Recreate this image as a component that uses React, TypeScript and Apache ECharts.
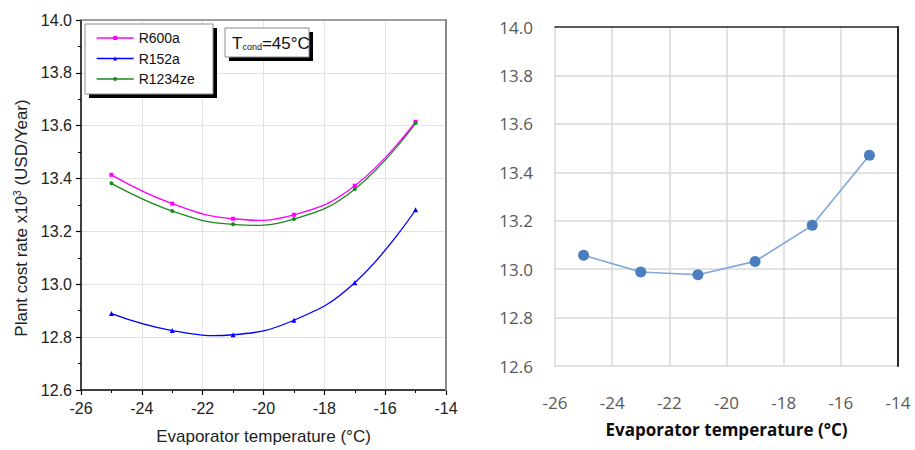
import React, { useEffect, useRef } from "react";
import * as echarts from "echarts";

// Evaporator temperatures (°C) at which the plant cost rate was evaluated
const temperatures = [-25, -23, -21, -19, -17, -15];

// Plant cost rate ×10³ (USD/Year) per refrigerant, T_cond = 45 °C
const costR600a = [13.414, 13.305, 13.248, 13.263, 13.373, 13.615];
const costR152a = [12.889, 12.825, 12.809, 12.864, 13.006, 13.282];
const costR1234ze = [13.382, 13.277, 13.227, 13.247, 13.36, 13.61];

// Single-curve comparison panel
const costComparison = [13.057, 12.988, 12.977, 13.032, 13.181, 13.47];

const seriesNames = ["R600a", "R152a", "R1234ze"];
const seriesColors = ["#ff00ff", "#0000ff", "#1a8a1a"];
const xTicks = { min: -26, max: -14, step: 2 };
const yTicks = { min: 12.6, max: 14.0, step: 0.2 };

const pairs = (ys: number[]) => temperatures.map((t, i) => [t, ys[i]]);

const ARIAL = "'Liberation Sans', Arial, sans-serif";
const CALIBRI = "'Open Sans', 'Noto Sans', sans-serif";

const frameAxis = (gridIndex: number, position: string, color: string, width: number, range: { min: number; max: number }) => ({
  gridIndex,
  type: "value",
  position,
  min: range.min,
  max: range.max,
  z: 3,
  axisLine: { show: true, onZero: false, lineStyle: { color, width } },
  axisTick: { show: false },
  axisLabel: { show: false },
  splitLine: { show: false },
});

// Smooth unconstrained curve through the points of one refrigerant, placed with the axis scales
const curveSeries = (values: number[], color: string) => {
  const data = pairs(values);
  return {
    type: "custom",
    xAxisIndex: 0,
    yAxisIndex: 0,
    z: 2,
    silent: true,
    data,
    renderItem: (params: any, api: any) => {
      if (params.dataIndex !== 0) return null;
      const points = data.map((d) => api.coord(d));
      return {
        type: "polyline",
        shape: { points, smooth: 0.45 },
        style: { stroke: color, lineWidth: 1.3, fill: null },
      };
    },
  };
};

// Markers of one refrigerant (its line is drawn by the curve above)
const markerSeries = (name: string, values: number[], color: string, symbol: string, size: number) => ({
  name,
  type: "line",
  xAxisIndex: 0,
  yAxisIndex: 0,
  data: pairs(values),
  symbol,
  symbolSize: size,
  color,
  lineStyle: { width: 1.3, color, opacity: 0 },
  z: 4,
});

export default function App() {
  const ref = useRef<HTMLDivElement>(null);

  useEffect(() => {
    if (!ref.current) return;
    const chart = echarts.init(ref.current, undefined, { renderer: "svg" });

    const fmt = (v: number) => v.toFixed(1);

    chart.setOption({
      animation: false,
      backgroundColor: "#ffffff",
      grid: [
        { left: 81, top: 20, width: 365, height: 371 },
        { left: 555, top: 27, width: 343, height: 339 },
      ],
      legend: {
        data: seriesNames.map((name, i) => ({
          name,
          lineStyle: { color: seriesColors[i], width: 1.3, opacity: 1 },
        })),
        orient: "vertical",
        left: 96,
        top: 31,
        z: 6,
        padding: 0,
        itemWidth: 37,
        itemHeight: 5,
        itemGap: 6.5,
        textStyle: { fontSize: 14, color: "#111", fontFamily: ARIAL },
      },
      xAxis: [
        {
          gridIndex: 0,
          type: "value",
          position: "bottom",
          min: xTicks.min,
          max: xTicks.max,
          interval: xTicks.step,
          axisLine: { show: true, onZero: false, lineStyle: { color: "#000", width: 1.5 } },
          axisTick: { show: true, inside: false, length: 5, lineStyle: { color: "#000", width: 1.2 } },
          minorTick: { show: true, splitNumber: 2, length: 3, lineStyle: { color: "#000", width: 1 } },
          axisLabel: { margin: 10, fontSize: 16, color: "#222", fontFamily: ARIAL },
          splitLine: { show: true, showMinLine: false, showMaxLine: false, lineStyle: { color: "#e3e3e3", width: 1 } },
          name: "Evaporator temperature (°C)",
          nameLocation: "middle",
          nameGap: 38,
          nameTextStyle: { fontSize: 17, color: "#222", fontFamily: ARIAL },
        },
        frameAxis(0, "top", "#7f7f7f", 1.5, xTicks),
        {
          gridIndex: 1,
          type: "value",
          position: "bottom",
          min: xTicks.min,
          max: xTicks.max,
          interval: xTicks.step,
          axisLine: { show: true, onZero: false, lineStyle: { color: "#d9d9d9", width: 1.5 } },
          axisTick: { show: false },
          axisLabel: { margin: 28, fontSize: 17, color: "#595959", fontFamily: CALIBRI },
          splitLine: { show: true, showMinLine: false, showMaxLine: false, lineStyle: { color: "#d9d9d9", width: 1.5 } },
          name: "Evaporator temperature (°C)",
          nameLocation: "middle",
          nameGap: 55,
          nameTextStyle: { fontSize: 17, fontWeight: "bold", color: "#0d0d0d", fontFamily: CALIBRI },
        },
        frameAxis(1, "top", "#262626", 1.5, xTicks),
      ],
      yAxis: [
        {
          gridIndex: 0,
          type: "value",
          position: "left",
          min: yTicks.min,
          max: yTicks.max,
          interval: yTicks.step,
          axisLine: { show: true, onZero: false, lineStyle: { color: "#000", width: 1.5 } },
          axisTick: { show: true, inside: false, length: 5, lineStyle: { color: "#000", width: 1.2 } },
          minorTick: { show: true, splitNumber: 2, length: 3, lineStyle: { color: "#000", width: 1 } },
          axisLabel: { margin: 9, fontSize: 16, color: "#222", fontFamily: ARIAL, formatter: fmt },
          splitLine: { show: true, showMinLine: false, showMaxLine: false, lineStyle: { color: "#e3e3e3", width: 1 } },
        },
        frameAxis(0, "right", "#8a8a8a", 2, yTicks),
        {
          gridIndex: 1,
          type: "value",
          position: "left",
          min: yTicks.min,
          max: yTicks.max,
          interval: yTicks.step,
          axisLine: { show: true, onZero: false, lineStyle: { color: "#d9d9d9", width: 1.5 } },
          axisTick: { show: false },
          axisLabel: { margin: 22, fontSize: 17, color: "#595959", fontFamily: CALIBRI, formatter: fmt },
          splitLine: { show: true, showMinLine: false, showMaxLine: false, lineStyle: { color: "#d9d9d9", width: 1.5 } },
        },
        frameAxis(1, "right", "#262626", 2, yTicks),
      ],
      series: [
        curveSeries(costR1234ze, seriesColors[2]),
        curveSeries(costR152a, seriesColors[1]),
        curveSeries(costR600a, seriesColors[0]),
        markerSeries("R600a", costR600a, seriesColors[0], "rect", 4),
        markerSeries("R152a", costR152a, seriesColors[1], "triangle", 5),
        markerSeries("R1234ze", costR1234ze, seriesColors[2], "circle", 4),
        {
          name: "Comparison",
          type: "line",
          xAxisIndex: 2,
          yAxisIndex: 2,
          data: pairs(costComparison),
          symbol: "circle",
          symbolSize: 11,
          itemStyle: { color: "#4a7ebf" },
          lineStyle: { width: 1.6, color: "#7ea6d8" },
        },
      ],
      graphic: {
        elements: [
          // legend frame with drop shadow
          { type: "rect", z: 1, shape: { x: 89, y: 28, width: 128, height: 70 }, style: { fill: "#000" } },
          { type: "rect", z: 2, shape: { x: 85, y: 24, width: 128, height: 70 }, style: { fill: "#fff", stroke: "#8c8c8c", lineWidth: 1 } },
          // condenser temperature note
          { type: "rect", z: 1, shape: { x: 229, y: 32, width: 84, height: 29 }, style: { fill: "#000" } },
          { type: "rect", z: 2, shape: { x: 225, y: 28, width: 84, height: 29 }, style: { fill: "#fff", stroke: "#8c8c8c", lineWidth: 1 } },
          {
            type: "text",
            z: 3,
            x: 232,
            y: 43,
            style: {
              text: "{t|T}{s|cond}{t|=45°C}",
              verticalAlign: "middle",
              align: "left",
              rich: {
                t: { fontSize: 17, fontFamily: ARIAL, fill: "#111", verticalAlign: "middle" },
                s: { fontSize: 9, fontFamily: ARIAL, fill: "#111", verticalAlign: "bottom" },
              },
            },
          },
          {
            type: "text",
            z: 3,
            x: 21,
            y: 218,
            rotation: Math.PI / 2,
            style: {
              text: "{n|Plant cost rate x10}{p|3}{n| (USD/Year)}",
              align: "center",
              verticalAlign: "middle",
              rich: {
                n: { fontSize: 17, fontFamily: ARIAL, fill: "#222", verticalAlign: "middle" },
                p: { fontSize: 10, fontFamily: ARIAL, fill: "#222", verticalAlign: "top" },
              },
            },
          },
        ],
      },
    });

    return () => chart.dispose();
  }, []);

  return (
    <div
      ref={ref}
      style={{ position: "fixed", left: 0, top: 0, width: 915, height: 450, background: "#fff" }}
    />
  );
}
